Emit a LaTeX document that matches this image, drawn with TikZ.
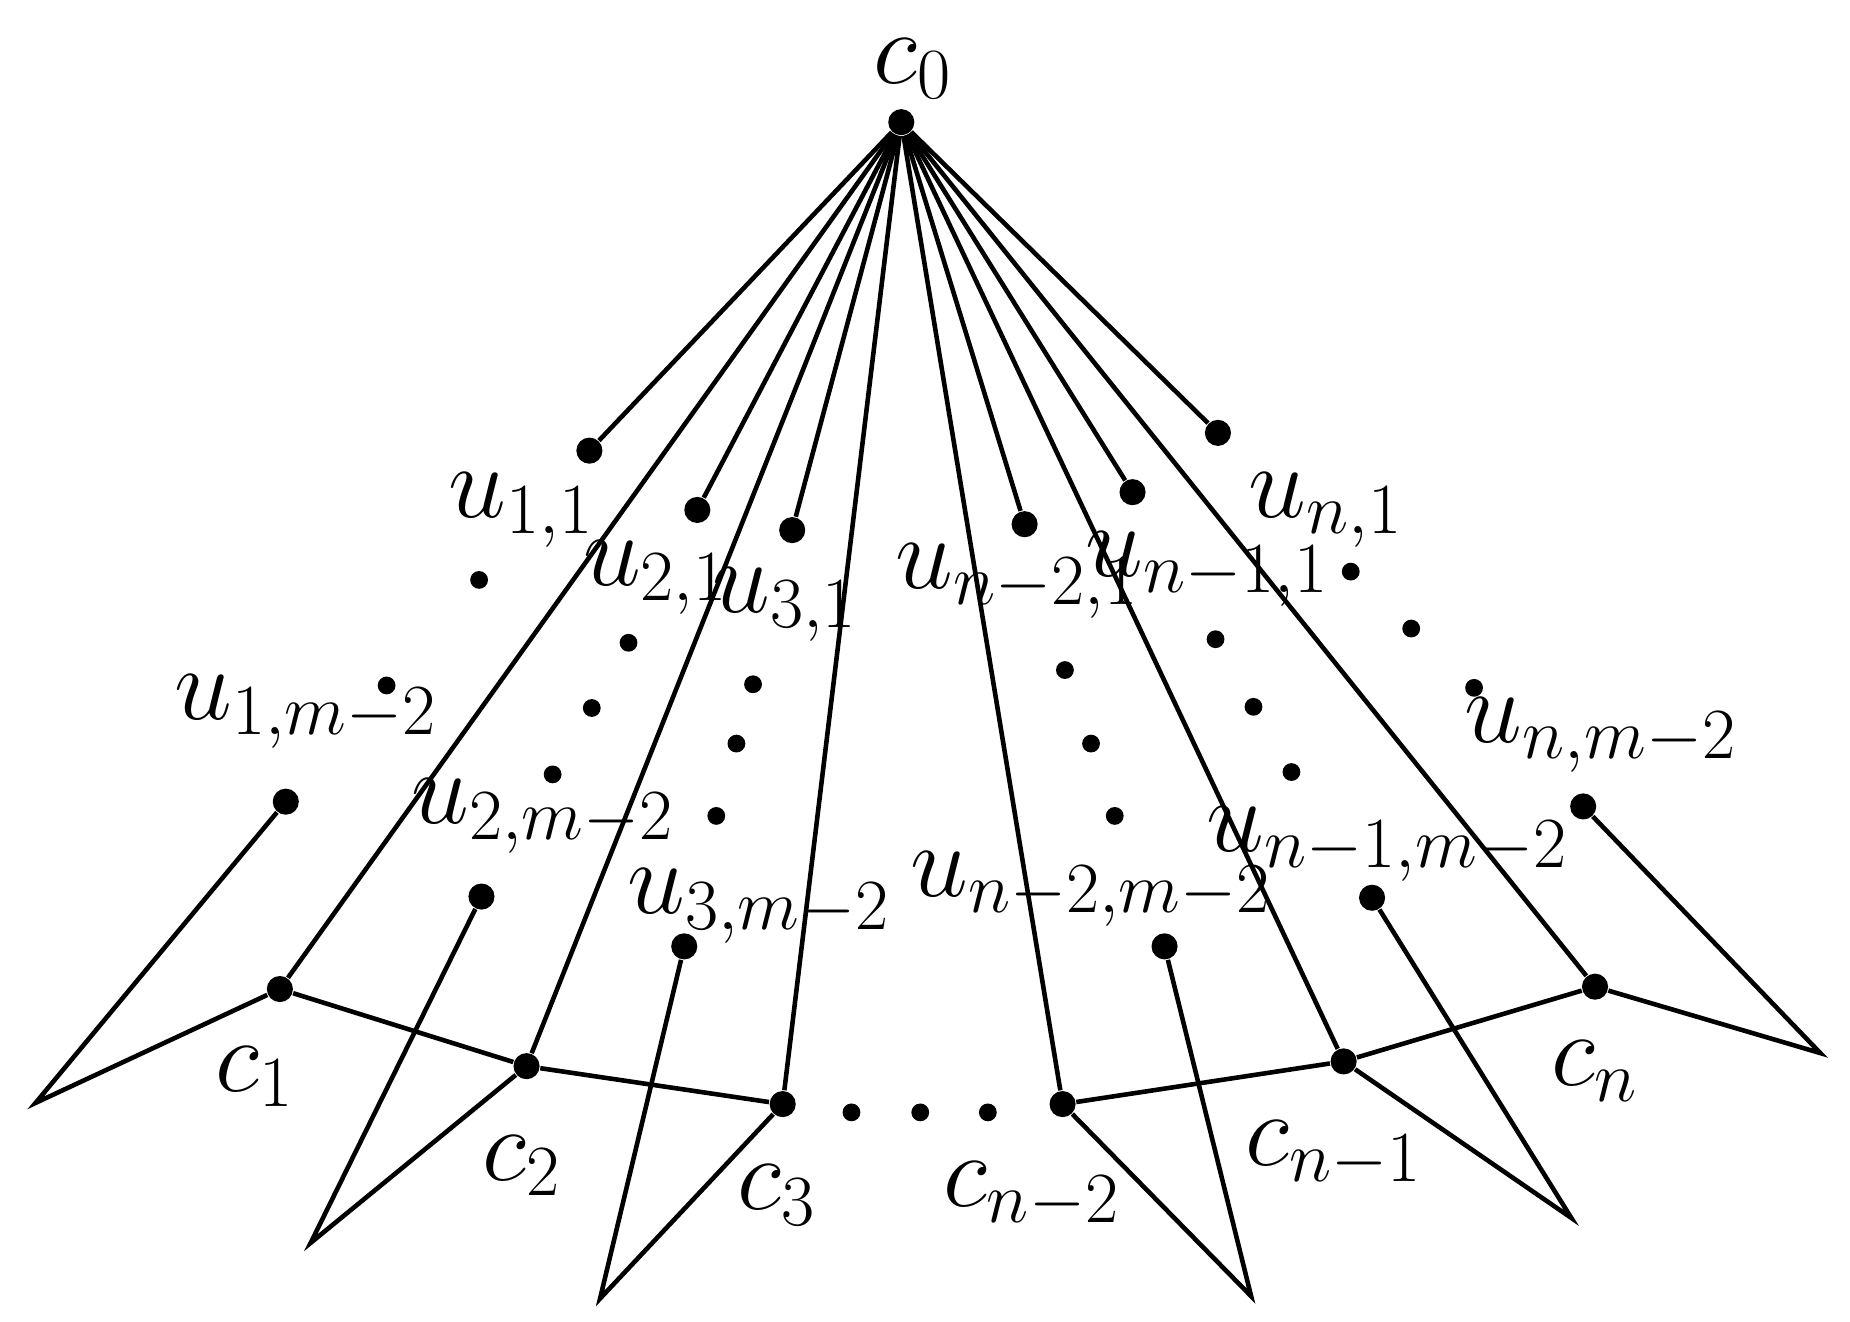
\documentclass[tikz,border=0pt]{standalone}
\usepackage{fontspec}
\setmainfont{Liberation Serif}
\begin{document}
\begin{tikzpicture}[x=0.01cm,y=-0.01cm,
  big/.style={circle,fill=black,inner sep=0pt,minimum size=0.22cm},
  sml/.style={circle,fill=black,inner sep=0pt,minimum size=0.15cm},
  lab/.style={inner sep=0pt,font=\fontsize{23}{27}\selectfont},
  edge/.style={line width=1.1pt}]
\useasboundingbox (0,0) rectangle (1560,1114);
\node[big] (c0) at (760,103) {};
\foreach \n/\x/\y in {u11/497/380,u21/588/430,u31/668/447,ua1/864/442,ub1/955/415,un1/1027/365,
 u1m/241/676,u2m/406/756,u3m/577/798,uam/982/798,ubm/1157/757,unm/1335/680,
 c1/236/834,c2/444/899,c3/660/931,ca/896/931,cb/1133/895,cn/1345/832}
 \node[big] (\n) at (\x,\y) {};
\foreach \n/\x/\y in {t1/30/930,t2/262/1048,t3/506/1095,ta/1055/1093,tb/1325/1027,tn/1535/888}
 \coordinate (\n) at (\x,\y);
\foreach \x/\y in {404/489,326/578,530/542,499/597,466/653,635/577,621/627,604/688,
 898/565,920/627,940/688,1025/539,1057/596,1089/651,1139/482,1190/530,1243/580,
 718/938,776/938,833/938}
 \node[sml] at (\x,\y) {};
\foreach \t in {u11,u21,u31,ua1,ub1,un1,c1,c2,c3,ca,cb,cn}
 \draw[edge] (c0) -- (\t);
\draw[edge] (c1) -- (c2) -- (c3);
\draw[edge] (ca) -- (cb) -- (cn);
\draw[edge] (u1m) -- (t1) -- (c1);
\draw[edge] (u2m) -- (t2) -- (c2);
\draw[edge] (u3m) -- (t3) -- (c3);
\draw[edge] (uam) -- (ta) -- (ca);
\draw[edge] (ubm) -- (tb) -- (cb);
\draw[edge] (unm) -- (tn) -- (cn);
\node[lab] (l0) at (770,58) {$c_0$};
\node[lab] (l11) at (440,430) {$u_{1,1}$};
\node[lab] (l21) at (553,487) {$u_{2,1}$};
\node[lab] (l31) at (662,510) {$u_{3,1}$};
\node[lab] (la1) at (858,490) {$u_{n-2,1}$};
\node[lab] (lb1) at (1018,480) {$u_{n-1,1}$};
\node[lab] (ln1) at (1118,430) {$u_{n,1}$};
\node[lab] (l1m) at (258,600) {$u_{1,m-2}$};
\node[lab] (l2m) at (458,688) {$u_{2,m-2}$};
\node[lab] (l3m) at (640,764) {$u_{3,m-2}$};
\node[lab] (lam) at (920,750) {$u_{n-2,m-2}$};
\node[lab] (lbm) at (1170,712) {$u_{n-1,m-2}$};
\node[lab] (lnm) at (1350,620) {$u_{n,m-2}$};
\node[lab] (lc1) at (215,908) {$c_1$};
\node[lab] (lc2) at (440,983) {$c_2$};
\node[lab] (lc3) at (655,1008) {$c_3$};
\node[lab] (lca) at (870,1008) {$c_{n-2}$};
\node[lab] (lcb) at (1125,973) {$c_{n-1}$};
\node[lab] (lcn) at (1345,903) {$c_n$};
\end{tikzpicture}
\end{document}
